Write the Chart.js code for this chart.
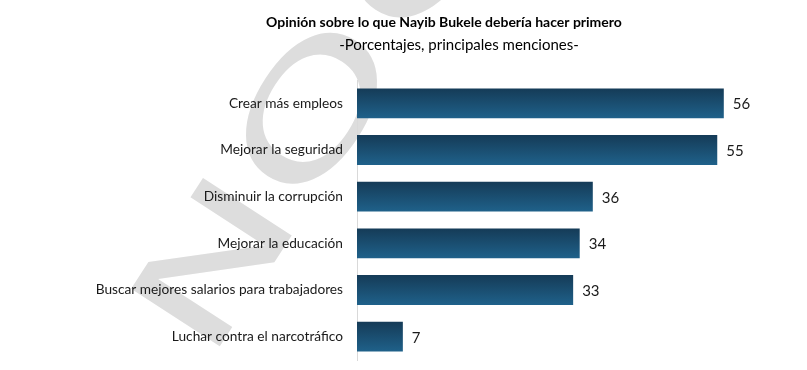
<!DOCTYPE html>
<html lang="es">
<head>
<meta charset="UTF-8">
<title>Opinión sobre lo que Nayib Bukele debería hacer primero</title>
<script src="https://cdn.jsdelivr.net/npm/chart.js"></script>
<style>
    body { margin: 0; background: #ffffff; }
    #wrap { width: 807px; height: 370px; }
</style>
</head>
<body>
<div id="wrap"><canvas id="chart"></canvas></div>
<script>
    const categories = [
        'Crear más empleos',
        'Mejorar la seguridad',
        'Disminuir la corrupción',
        'Mejorar la educación',
        'Buscar mejores salarios para trabajadores',
        'Luchar contra el narcotráfico'
    ];
    const values = [56, 55, 36, 34, 33, 7];
    const titleText = 'Opinión sobre lo que Nayib Bukele debería hacer primero';
    const subtitleText = '-Porcentajes, principales menciones-';
    const watermarkWords = ['NO', 'COPIAR'];

    const FONT = 'Lato, "Open Sans", sans-serif';
    const BAR_PCT = 0.64;

    // light grey watermark behind the bars
    const watermarkPlugin = {
        id: 'watermark',
        beforeDraw(chart) {
            const c = chart.ctx;
            c.save();
            c.translate(207, 366);
            c.rotate(-57 * Math.PI / 180);
            c.scale(1.65, 1);
            c.font = '145px "DejaVu Sans", sans-serif';
            c.fillStyle = '#dddddd';
            c.textBaseline = 'alphabetic';
            c.fillText(watermarkWords[0], 0, 0);
            const w = c.measureText(watermarkWords[0]).width;
            c.fillText(watermarkWords[1], w + 6, 0);
            c.restore();
        }
    };

    const headerPlugin = {
        id: 'header',
        afterDraw(chart) {
            const c = chart.ctx;
            c.save();
            c.fillStyle = '#000000';
            c.textAlign = 'center';
            c.textBaseline = 'middle';
            c.font = 'bold 14px ' + FONT;
            c.fillText(titleText, 444, 22);
            c.font = '15px ' + FONT;
            c.fillText(subtitleText, 459, 45);
            c.restore();
        }
    };

    const valueLabels = {
        id: 'valueLabels',
        afterDatasetsDraw(chart) {
            const c = chart.ctx;
            const meta = chart.getDatasetMeta(0);
            c.save();
            c.fillStyle = '#1a1a1a';
            c.font = '15px ' + FONT;
            c.textAlign = 'left';
            c.textBaseline = 'middle';
            meta.data.forEach((bar, i) => {
                c.fillText(values[i], bar.x + 9, bar.y + 1);
            });
            c.restore();
        }
    };

    function barFill(ctx) {
        const chart = ctx.chart;
        const y = chart.scales.y;
        if (!y || ctx.dataIndex === undefined) return '#1a4f74';
        const center = y.getPixelForValue(ctx.dataIndex);
        const half = y.height / categories.length * BAR_PCT / 2;
        if (!isFinite(center) || !isFinite(half) || half <= 0) return '#1a4f74';
        const g = chart.ctx.createLinearGradient(0, center - half, 0, center + half);
        g.addColorStop(0, '#153b57');
        g.addColorStop(1, '#1f618a');
        return g;
    }

    new Chart(document.getElementById('chart'), {
        type: 'bar',
        data: {
            labels: categories,
            datasets: [{
                data: values,
                backgroundColor: barFill,
                borderWidth: 0,
                barPercentage: BAR_PCT,
                categoryPercentage: 1
            }]
        },
        options: {
            indexAxis: 'y',
            responsive: true,
            maintainAspectRatio: false,
            animation: false,
            layout: { padding: { top: 80, bottom: 10, right: 57, left: 0 } },
            plugins: {
                legend: { display: false },
                tooltip: { enabled: false }
            },
            scales: {
                x: {
                    display: false,
                    min: 0,
                    max: 60
                },
                y: {
                    afterFit(s) {
                        s.width = 357;
                        s.paddingTop = 0;
                        s.paddingBottom = 0;
                    },
                    grid: { display: false },
                    border: { display: true, color: '#d9d9d9', width: 1 },
                    ticks: {
                        color: '#1a1a1a',
                        padding: 6,
                        font: { family: FONT, size: 13.7 }
                    }
                }
            }
        },
        plugins: [watermarkPlugin, headerPlugin, valueLabels]
    });
</script>
</body>
</html>
